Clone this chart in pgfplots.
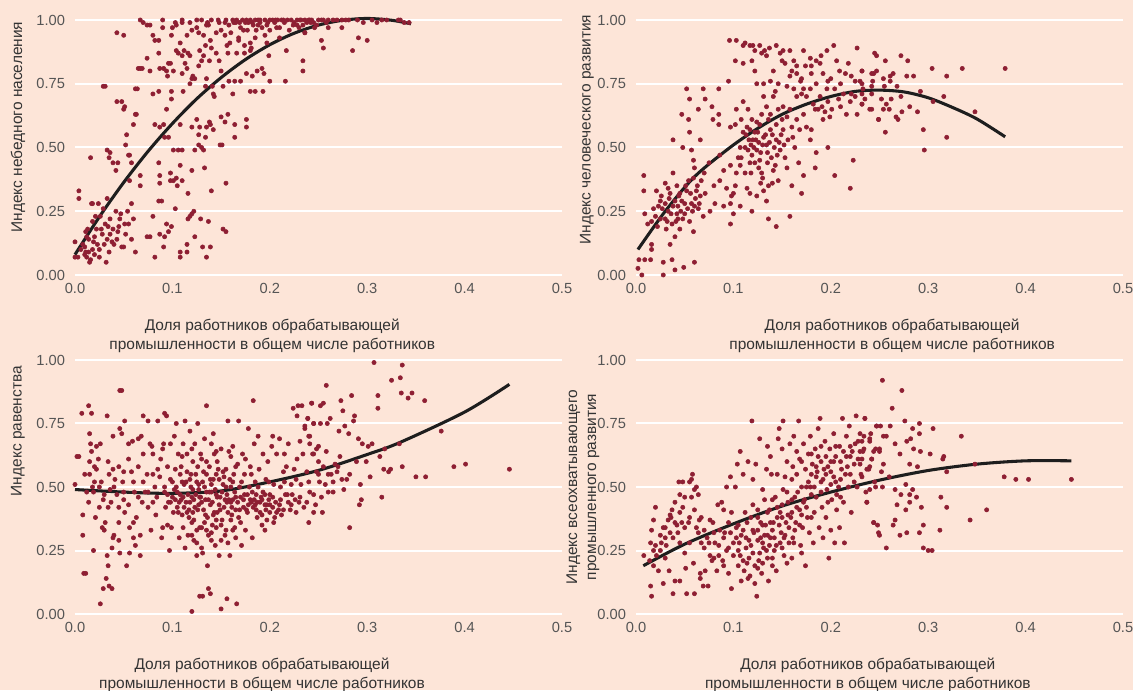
\documentclass[border=0pt]{standalone}
\usepackage{fontspec}
\setmainfont{Liberation Sans}
\usepackage{pgfplots}
\pgfplotsset{compat=1.18}
\definecolor{bg}{HTML}{FDE5D8}
\definecolor{pt}{HTML}{8E1F33}
\definecolor{fit}{HTML}{1E1E1E}
\definecolor{tickc}{HTML}{555555}
\definecolor{labc}{HTML}{333333}
\pgfplotsset{
 panel/.style={
  anchor=south west, scale only axis, width=365.25pt,
  xmin=0, xmax=0.5, ymin=0, ymax=1, clip=false,
  axis line style={draw=none}, major tick length=0pt,
  xtick={0,0.1,0.2,0.3,0.4,0.5}, xticklabels={0.0,0.1,0.2,0.3,0.4,0.5},
  ytick={0,0.25,0.5,0.75,1}, yticklabels={0.00,0.25,0.50,0.75,1.00},
  ymajorgrids, xmajorgrids=false,
  major grid style={white, line width=1.5pt},
  ticklabel style={font=\fontsize{11}{12}\selectfont, text=tickc},
  xticklabel style={yshift=-2.5pt},
  yticklabel style={xshift=-4pt},
  label style={font=\fontsize{11.6}{14.2}\selectfont, text=labc, align=center},
 },
 pts/.style={only marks, mark=*, mark size=1.6pt, color=pt, mark options={draw=none, fill=pt}},
 fitline/.style={no marks, smooth, color=fit, line width=2.3pt},
}
\begin{document}
\begin{tikzpicture}
\path[use as bounding box, fill=bg] (0,0) rectangle (849.75pt,517.5pt);
% ---------------- Panel 1
\begin{axis}[panel, at={(56.25pt,311.25pt)}, height=191.25pt,
  ylabel={Индекс небедного населения},
  ylabel style={at={(axis description cs:-0.117,0.58)}, anchor=center},
  xlabel={Доля работников обрабатывающей\\промышленности в общем числе работников},
  xlabel style={at={(axis description cs:0.405,-0.237)}, anchor=center}]
\addplot[pts] coordinates {
(0,0.07)(0,0.13)(0.003,0.07)(0.004,0.33)(0.004,0.30)(0.01,0.11)(0.011,0.09)(0.012,0.07)(0.013,0.18)(0.014,0.14)(0.015,0.05)(0.017,0.28)(0.019,0.13)(0.021,0.23)(0.022,0.18)(0.024,0.28)(0.025,0.07)(0.026,0.23)(0.027,0.18)(0.029,0.26)(0.031,0.20)(0.032,0.05)(0.033,0.30)(0.033,0.14)(0.036,0.22)(0.038,0.13)(0.039,0.18)(0.042,0.25)(0.044,0.17)(0.046,0.22)(0.048,0.11)(0.05,0.11)(0.051,0.20)(0.055,0.20)(0.058,0.14)(0.058,0.28)(0.062,0.09)(0.074,0.15)(0.077,0.15)(0.08,0.23)(0.082,0.07)(0.086,0.29)(0.087,0.16)(0.091,0.11)(0.092,0.15)(0.094,0.20)(0.096,0.17)(0.099,0.19)(0.103,0.26)(0.108,0.09)(0.108,0.07)(0.115,0.09)(0.115,0.12)(0.116,0.32)(0.116,0.22)(0.118,0.23)(0.12,0.24)(0.122,0.25)(0.123,0.15)(0.129,0.22)(0.131,0.11)(0.135,0.07)(0.137,0.21)(0.139,0.11)(0.14,0.33)(0.152,0.18)(0.155,0.17)
(0.006,0.10)(0.008,0.12)(0.01,0.08)(0.012,0.15)(0.014,0.09)(0.016,0.06)(0.018,0.10)(0.02,0.15)(0.023,0.12)(0.025,0.10)(0.028,0.16)(0.03,0.12)(0.034,0.19)(0.036,0.16)(0.04,0.12)(0.043,0.14)(0.045,0.19)(0.047,0.24)(0.052,0.16)(0.054,0.25)(0.06,0.22)(0.035,0.09)(0.02,0.08)(0.011,0.17)(0.018,0.21)
(0.016,0.46)(0.018,0.28)(0.029,0.74)(0.031,0.74)(0.033,0.49)(0.035,0.46)(0.036,0.48)(0.039,0.44)(0.042,0.41)(0.043,0.68)(0.044,0.44)(0.048,0.68)(0.05,0.65)(0.051,0.66)(0.053,0.55)(0.052,0.51)(0.055,0.47)(0.056,0.47)(0.058,0.44)(0.056,0.37)(0.06,0.59)(0.062,0.63)(0.063,0.63)(0.062,0.73)(0.064,0.73)(0.065,0.81)(0.067,0.81)(0.069,0.81)(0.067,0.39)(0.067,0.35)(0.074,0.85)(0.077,0.80)(0.08,0.71)(0.082,0.59)(0.086,0.72)(0.086,0.44)(0.087,0.58)(0.087,0.39)(0.087,0.36)(0.089,0.29)(0.091,0.59)(0.092,0.54)(0.094,0.65)(0.096,0.54)(0.098,0.40)(0.098,0.37)(0.099,0.72)(0.099,0.69)(0.101,0.49)(0.101,0.37)(0.104,0.38)(0.105,0.35)(0.106,0.49)(0.108,0.59)(0.108,0.43)(0.11,0.49)(0.11,0.37)(0.111,0.72)(0.12,0.41)(0.12,0.58)(0.123,0.49)(0.125,0.61)(0.127,0.55)(0.127,0.51)(0.128,0.58)(0.13,0.50)(0.132,0.49)(0.133,0.42)(0.134,0.54)(0.135,0.58)(0.138,0.60)(0.139,0.59)(0.142,0.57)(0.149,0.51)(0.151,0.51)(0.15,0.62)(0.154,0.60)(0.155,0.36)(0.157,0.63)(0.164,0.59)(0.164,0.54)(0.176,0.61)(0.176,0.58)
(0.043,0.95)(0.05,0.94)(0.067,1.0)(0.07,0.99)(0.074,0.98)(0.077,0.98)(0.08,0.94)(0.082,0.92)(0.086,0.92)(0.086,0.87)(0.09,0.97)(0.087,0.81)(0.091,0.81)(0.094,0.80)(0.096,0.83)(0.098,0.83)(0.095,0.78)(0.099,0.94)(0.101,0.80)(0.103,0.99)(0.104,0.98)(0.104,0.88)(0.106,0.87)(0.108,0.91)(0.11,0.99)(0.11,0.86)(0.11,0.79)(0.112,0.88)(0.113,0.83)(0.115,0.81)(0.115,0.94)(0.116,0.87)(0.118,0.99)(0.118,0.86)(0.118,0.75)(0.12,0.77)(0.121,0.78)(0.123,0.77)(0.125,0.97)(0.127,0.95)(0.127,0.82)(0.128,0.88)(0.13,1.0)(0.13,0.84)(0.132,0.94)(0.132,0.86)(0.134,0.90)(0.134,0.74)(0.135,0.77)(0.135,0.98)(0.137,0.98)(0.138,0.84)(0.139,0.92)(0.14,0.89)(0.141,0.74)(0.142,0.71)(0.143,0.70)(0.145,0.87)(0.145,0.95)(0.147,1.0)(0.148,0.84)(0.15,0.80)(0.152,0.74)(0.154,0.99)(0.154,0.94)(0.156,0.90)(0.157,0.87)(0.158,0.76)(0.159,0.91)(0.162,1.0)(0.162,0.71)(0.164,0.76)(0.166,0.87)(0.168,0.92)(0.169,0.99)(0.17,0.76)(0.173,0.96)(0.174,0.87)(0.176,0.79)(0.178,0.99)(0.18,0.91)(0.18,0.72)(0.181,0.89)(0.182,0.78)(0.185,0.72)(0.187,0.80)(0.188,0.98)(0.19,1.0)(0.192,0.81)(0.193,0.72)(0.194,0.79)(0.197,0.91)(0.199,0.86)(0.2,1.0)(0.2,0.76)(0.207,0.97)(0.216,0.76)(0.217,0.88)(0.228,0.98)(0.234,0.84)(0.236,0.95)(0.241,1.0)(0.248,0.98)
(0.136,0.99)(0.14,1.0)(0.148,0.99)(0.155,1.0)(0.158,0.98)(0.163,0.99)(0.166,1.0)(0.17,0.97)(0.172,1.0)(0.175,0.99)(0.177,0.96)(0.18,1.0)(0.183,0.98)(0.185,1.0)(0.186,0.96)(0.19,0.99)(0.192,0.97)(0.195,1.0)(0.197,0.98)(0.2,0.96)(0.203,1.0)(0.205,0.99)(0.208,1.0)(0.21,0.97)(0.212,1.0)(0.215,0.99)(0.218,1.0)(0.22,0.96)(0.222,1.0)(0.225,0.99)(0.23,0.97)(0.232,1.0)(0.238,0.99)(0.243,1.0)(0.246,0.97)(0.15,0.96)(0.16,0.95)(0.168,0.93)(0.185,0.93)(0.195,0.94)(0.21,0.93)(0.174,0.90)(0.18,0.88)(0.125,1.0)(0.11,1.0)(0.12,0.96)(0.1,0.97)(0.09,1.0)
(0.231,1.0)(0.234,0.98)(0.236,0.95)(0.24,1.0)(0.242,0.99)(0.25,1.0)(0.253,1.0)(0.255,1.0)(0.26,1.0)(0.26,0.97)(0.269,1.0)(0.274,1.0)(0.274,0.97)(0.253,0.92)(0.255,0.89)(0.281,1.0)(0.285,0.88)(0.291,0.93)(0.3,0.92)(0.31,0.99)(0.315,1.0)(0.332,1.0)(0.334,1.0)(0.343,0.99)(0.234,0.80)
(0.165,0.99)(0.176,1.0)(0.182,0.99)(0.188,1.0)(0.198,0.99)(0.206,1.0)(0.214,1.0)(0.224,0.98)(0.228,1.0)(0.236,1.0)(0.245,0.99)(0.258,0.99)(0.265,1.0)(0.278,1.0)(0.29,1.0)(0.296,0.99)(0.305,1.0)(0.32,1.0)(0.338,0.99)
};
\addplot[fitline] coordinates {(0,0.08)(0.025,0.228)(0.05,0.363)(0.075,0.485)(0.1,0.594)(0.125,0.691)(0.15,0.774)(0.175,0.845)(0.2,0.903)(0.225,0.948)(0.25,0.98)(0.275,0.999)(0.3,1.006)(0.325,0.999)(0.345,0.985)};
\end{axis}
% ---------------- Panel 2
\begin{axis}[panel, at={(477pt,311.25pt)}, height=191.25pt,
  ylabel={Индекс человеческого развития},
  ylabel style={at={(axis description cs:-0.1006,0.57)}, anchor=center},
  xlabel={Доля работников обрабатывающей\\промышленности в общем числе работников},
  xlabel style={at={(axis description cs:0.526,-0.237)}, anchor=center}]
\addplot[pts] coordinates {
(0.002,0.026)(0.006,0.0)(0.003,0.06)(0.009,0.06)(0.015,0.06)(0.016,0.10)(0.016,0.12)(0.008,0.39)(0.008,0.33)(0.009,0.24)(0.016,0.21)(0.02,0.23)(0.021,0.33)(0.023,0.27)(0.026,0.31)(0.028,0.05)(0.028,0.0)(0.03,0.36)(0.03,0.22)(0.031,0.18)(0.033,0.25)(0.035,0.32)(0.035,0.12)(0.037,0.06)(0.037,0.20)(0.038,0.40)(0.04,0.29)(0.04,0.15)(0.04,0.02)(0.042,0.35)(0.042,0.24)(0.043,0.27)(0.045,0.18)(0.045,0.32)(0.047,0.29)(0.049,0.03)(0.05,0.24)(0.052,0.73)(0.055,0.69)(0.054,0.37)(0.055,0.21)(0.057,0.28)(0.059,0.38)(0.059,0.17)(0.06,0.42)(0.06,0.05)(0.062,0.33)(0.064,0.26)(0.064,0.65)(0.066,0.53)(0.066,0.31)(0.067,0.37)(0.069,0.23)(0.069,0.73)(0.071,0.69)(0.071,0.32)(0.076,0.25)(0.078,0.66)(0.079,0.61)(0.081,0.28)(0.085,0.73)(0.085,0.63)(0.085,0.59)(0.086,0.37)(0.086,0.47)(0.09,0.27)(0.09,0.41)(0.093,0.34)(0.095,0.76)(0.097,0.58)(0.097,0.43)(0.097,0.20)(0.098,0.31)(0.1,0.32)(0.1,0.24)(0.102,0.35)(0.047,0.63)(0.048,0.50)(0.038,0.53)(0.054,0.61)(0.055,0.56)(0.057,0.49)(0.059,0.45)
(0.012,0.20)(0.018,0.26)(0.022,0.19)(0.025,0.22)(0.027,0.26)(0.03,0.28)(0.032,0.21)(0.034,0.30)(0.036,0.24)(0.038,0.27)(0.041,0.21)(0.044,0.31)(0.046,0.25)(0.048,0.22)(0.05,0.28)(0.052,0.33)(0.053,0.26)(0.056,0.32)(0.058,0.25)(0.061,0.30)(0.063,0.35)(0.065,0.28)
(0.025,0.29)(0.033,0.34)(0.043,0.22)(0.051,0.35)(0.06,0.27)(0.07,0.40)(0.075,0.44)(0.08,0.35)(0.2,0.77)(0.21,0.75)(0.215,0.79)(0.225,0.76)(0.18,0.82)(0.19,0.86)(0.16,0.80)(0.17,0.77)
(0.096,0.92)(0.103,0.92)(0.11,0.90)(0.112,0.91)(0.117,0.90)(0.12,0.90)(0.122,0.88)(0.127,0.90)(0.129,0.87)(0.132,0.88)(0.134,0.86)(0.137,0.89)(0.144,0.90)(0.148,0.87)(0.15,0.84)(0.151,0.88)(0.153,0.83)(0.158,0.88)(0.162,0.84)(0.165,0.82)(0.172,0.88)(0.174,0.82)(0.179,0.85)(0.18,0.79)(0.185,0.84)(0.189,0.83)(0.192,0.79)(0.196,0.88)(0.197,0.76)(0.203,0.90)(0.206,0.84)(0.209,0.80)(0.218,0.83)(0.221,0.78)(0.227,0.89)(0.23,0.76)(0.232,0.80)(0.244,0.79)(0.247,0.86)(0.102,0.84)(0.11,0.83)(0.119,0.84)(0.122,0.80)(0.124,0.75)(0.131,0.75)(0.138,0.76)(0.141,0.80)(0.143,0.72)(0.146,0.75)(0.155,0.74)(0.158,0.78)(0.162,0.73)(0.165,0.79)(0.169,0.76)(0.17,0.71)(0.172,0.73)(0.175,0.70)(0.179,0.73)(0.182,0.67)(0.184,0.65)(0.185,0.75)(0.187,0.65)(0.189,0.70)(0.191,0.66)(0.192,0.61)(0.194,0.64)(0.196,0.73)(0.197,0.68)(0.199,0.62)(0.201,0.65)(0.204,0.73)(0.208,0.69)(0.21,0.66)(0.213,0.71)(0.216,0.63)(0.22,0.68)(0.221,0.71)(0.225,0.70)(0.227,0.63)(0.232,0.67)(0.233,0.73)(0.24,0.65)(0.242,0.74)(0.249,0.61)(0.223,0.45)(0.22,0.34)(0.204,0.39)(0.197,0.50)(0.185,0.48)(0.184,0.42)(0.172,0.39)(0.17,0.32)(0.16,0.35)(0.158,0.23)(0.144,0.19)(0.136,0.22)(0.134,0.29)(0.131,0.33)(0.129,0.40)(0.124,0.31)(0.119,0.25)(0.117,0.32)(0.114,0.34)(0.112,0.40)(0.107,0.27)(0.105,0.46)(0.107,0.50)(0.11,0.56)(0.114,0.58)(0.117,0.57)(0.12,0.53)(0.124,0.49)(0.127,0.45)(0.131,0.54)(0.134,0.51)(0.138,0.57)(0.139,0.46)(0.141,0.41)(0.144,0.53)(0.146,0.37)(0.148,0.49)(0.151,0.57)(0.153,0.46)(0.155,0.42)(0.156,0.53)(0.16,0.58)(0.161,0.54)(0.163,0.50)(0.165,0.61)(0.167,0.44)(0.168,0.57)(0.172,0.63)(0.175,0.58)(0.179,0.53)(0.18,0.57)(0.102,0.59)(0.103,0.65)(0.108,0.61)(0.11,0.68)(0.115,0.65)(0.119,0.61)(0.112,0.50)(0.115,0.49)(0.117,0.44)(0.122,0.56)(0.127,0.59)(0.131,0.70)(0.134,0.66)(0.136,0.61)(0.138,0.63)(0.141,0.70)(0.144,0.59)(0.146,0.65)(0.15,0.61)(0.151,0.66)(0.155,0.62)(0.158,0.65)(0.165,0.70)(0.107,0.43)(0.108,0.46)(0.103,0.40)(0.097,0.28)
(0.113,0.55)(0.116,0.53)(0.118,0.51)(0.121,0.50)(0.123,0.53)(0.125,0.56)(0.126,0.52)(0.128,0.48)(0.13,0.51)(0.133,0.55)(0.135,0.48)(0.137,0.52)(0.14,0.55)(0.142,0.50)(0.145,0.47)(0.147,0.52)(0.149,0.55)(0.152,0.51)(0.119,0.47)(0.122,0.44)(0.126,0.42)(0.13,0.38)(0.135,0.44)(0.14,0.36)(0.143,0.43)(0.136,0.35)(0.128,0.36)(0.118,0.40)(0.124,0.60)(0.129,0.63)
(0.232,0.80)(0.232,0.75)(0.232,0.71)(0.232,0.67)(0.235,0.69)(0.242,0.79)(0.242,0.71)(0.242,0.65)(0.243,0.76)(0.245,0.87)(0.247,0.80)(0.249,0.61)(0.252,0.69)(0.254,0.77)(0.254,0.65)(0.255,0.74)(0.256,0.84)(0.256,0.56)(0.257,0.67)(0.26,0.65)(0.261,0.78)(0.261,0.76)(0.262,0.69)(0.264,0.79)(0.267,0.62)(0.268,0.74)(0.269,0.61)(0.272,0.86)(0.272,0.70)(0.273,0.64)(0.278,0.78)(0.279,0.84)(0.281,0.66)(0.285,0.78)(0.289,0.64)(0.292,0.72)(0.295,0.57)(0.296,0.49)(0.304,0.81)(0.305,0.68)(0.316,0.70)(0.319,0.78)(0.319,0.54)(0.335,0.81)(0.348,0.64)(0.379,0.81)
};
\addplot[fitline] coordinates {(0.002,0.10)(0.03,0.25)(0.06,0.385)(0.0965,0.50)(0.125,0.575)(0.15,0.63)(0.175,0.67)(0.2,0.70)(0.225,0.72)(0.25,0.725)(0.275,0.718)(0.3,0.695)(0.325,0.657)(0.35,0.612)(0.379,0.542)};
\end{axis}
% ---------------- Panel 3
\begin{axis}[panel, at={(56.25pt,57pt)}, height=190.5pt,
  ylabel={Индекс равенства},
  ylabel style={at={(axis description cs:-0.117,0.72)}, anchor=center},
  xlabel={Доля работников обрабатывающей\\промышленности в общем числе работников},
  xlabel style={at={(axis description cs:0.384,-0.24)}, anchor=center}]
\addplot[pts] coordinates {
(0,0.51)(0.002,0.62)(0.004,0.62)(0.007,0.79)(0.008,0.39)(0.008,0.31)(0.009,0.16)(0.011,0.16)(0.014,0.82)(0.014,0.44)(0.015,0.55)(0.015,0.71)(0.015,0.60)(0.016,0.67)(0.017,0.79)(0.017,0.64)(0.018,0.50)(0.019,0.25)(0.019,0.48)(0.021,0.38)(0.022,0.66)(0.022,0.57)(0.024,0.61)(0.025,0.42)(0.026,0.04)(0.026,0.67)(0.027,0.52)(0.028,0.34)(0.029,0.10)(0.029,0.45)(0.031,0.36)(0.032,0.14)(0.033,0.23)(0.033,0.78)(0.034,0.60)(0.034,0.19)(0.035,0.11)(0.036,0.49)(0.037,0.44)(0.038,0.26)(0.038,0.10)(0.039,0.70)(0.039,0.30)(0.039,0.57)(0.041,0.53)(0.043,0.47)(0.045,0.42)(0.045,0.29)(0.046,0.73)(0.046,0.88)(0.048,0.88)(0.046,0.24)(0.048,0.71)(0.049,0.52)(0.05,0.45)(0.051,0.76)(0.051,0.40)(0.053,0.19)(0.055,0.67)(0.056,0.34)(0.056,0.24)(0.058,0.56)(0.059,0.68)(0.06,0.30)(0.061,0.48)(0.062,0.27)(0.063,0.38)(0.065,0.69)(0.067,0.31)(0.067,0.23)(0.068,0.70)(0.069,0.44)(0.07,0.78)(0.072,0.48)(0.074,0.55)(0.075,0.76)(0.077,0.67)(0.079,0.66)(0.08,0.63)(0.08,0.55)(0.082,0.50)(0.083,0.39)(0.084,0.46)(0.085,0.76)(0.087,0.54)(0.088,0.61)(0.089,0.30)(0.09,0.34)(0.091,0.67)(0.092,0.79)(0.092,0.48)(0.093,0.42)(0.094,0.78)(0.095,0.58)(0.096,0.44)(0.097,0.25)(0.098,0.53)(0.098,0.67)(0.099,0.34)(0.1,0.46)(0.101,0.40)(0.102,0.70)(0.103,0.57)(0.104,0.50)(0.104,0.75)(0.105,0.42)(0.106,0.63)(0.107,0.30)(0.108,0.55)(0.108,0.47)(0.11,0.39)(0.111,0.67)(0.111,0.34)(0.112,0.51)(0.113,0.76)(0.113,0.26)(0.114,0.44)(0.115,0.63)(0.115,0.56)(0.116,0.31)(0.117,0.41)(0.118,0.72)(0.119,0.50)(0.12,0.01)(0.12,0.36)(0.121,0.60)(0.122,0.29)(0.122,0.45)(0.123,0.67)(0.124,0.55)(0.125,0.23)(0.126,0.75)(0.126,0.41)(0.127,0.51)(0.128,0.34)(0.128,0.07)(0.129,0.63)(0.13,0.44)(0.131,0.07)(0.131,0.24)(0.132,0.56)(0.133,0.69)(0.134,0.39)(0.135,0.82)(0.135,0.48)(0.136,0.19)(0.137,0.10)(0.137,0.31)(0.138,0.58)(0.139,0.08)(0.139,0.43)(0.14,0.67)(0.14,0.51)(0.141,0.35)(0.142,0.71)(0.143,0.63)(0.144,0.27)(0.145,0.47)(0.145,0.55)(0.146,0.40)(0.147,0.57)(0.148,0.23)(0.149,0.46)(0.15,0.02)(0.15,0.65)(0.151,0.37)(0.152,0.51)(0.154,0.31)(0.155,0.57)(0.156,0.06)(0.156,0.44)(0.157,0.76)(0.158,0.64)(0.159,0.23)(0.16,0.50)(0.161,0.39)(0.162,0.66)(0.163,0.55)(0.164,0.34)(0.165,0.46)(0.166,0.04)(0.167,0.59)(0.168,0.76)(0.169,0.41)(0.169,0.50)(0.171,0.27)(0.172,0.63)(0.173,0.45)(0.174,0.55)(0.176,0.41)(0.178,0.73)(0.179,0.50)(0.18,0.58)(0.181,0.44)(0.182,0.30)(0.183,0.84)(0.184,0.67)(0.185,0.52)(0.186,0.41)(0.186,0.47)(0.188,0.70)(0.189,0.57)(0.19,0.44)(0.192,0.39)(0.193,0.63)(0.193,0.48)(0.195,0.33)(0.196,0.53)(0.197,0.43)(0.198,0.60)(0.2,0.40)(0.2,0.47)(0.202,0.66)(0.203,0.70)(0.204,0.36)(0.204,0.51)(0.206,0.44)(0.207,0.63)(0.209,0.41)(0.21,0.69)(0.211,0.50)(0.212,0.39)(0.214,0.56)(0.215,0.63)(0.216,0.47)(0.217,0.58)(0.219,0.67)(0.221,0.41)(0.222,0.51)(0.224,0.81)(0.225,0.57)(0.227,0.40)(0.228,0.78)(0.228,0.61)(0.229,0.82)(0.23,0.44)(0.231,0.68)(0.232,0.51)(0.234,0.63)(0.236,0.73)(0.238,0.56)(0.239,0.77)(0.24,0.36)(0.241,0.48)(0.241,0.70)(0.243,0.83)(0.244,0.63)(0.245,0.40)(0.245,0.75)(0.247,0.43)(0.248,0.56)(0.25,0.66)(0.251,0.52)
(0.105,0.48)(0.109,0.45)(0.112,0.42)(0.116,0.47)(0.118,0.44)(0.121,0.40)(0.124,0.47)(0.127,0.43)(0.129,0.46)(0.132,0.41)(0.134,0.45)(0.136,0.38)(0.138,0.48)(0.141,0.44)(0.143,0.40)(0.146,0.46)(0.148,0.43)(0.151,0.48)(0.153,0.42)(0.156,0.47)(0.158,0.45)(0.161,0.42)(0.164,0.48)(0.167,0.44)(0.17,0.46)(0.173,0.42)(0.177,0.47)(0.18,0.45)(0.183,0.42)(0.187,0.44)(0.191,0.46)(0.195,0.43)(0.199,0.45)(0.203,0.42)(0.122,0.37)(0.13,0.34)(0.14,0.32)(0.15,0.35)(0.16,0.37)(0.118,0.53)(0.125,0.52)(0.133,0.50)(0.142,0.53)(0.153,0.54)(0.162,0.52)(0.11,0.52)(0.03,0.47)(0.04,0.50)(0.05,0.48)(0.06,0.52)(0.065,0.46)(0.07,0.52)(0.075,0.42)(0.02,0.52)(0.045,0.58)(0.055,0.61)
(0.092,0.50)(0.095,0.47)(0.098,0.44)(0.1,0.52)(0.103,0.45)(0.106,0.40)(0.109,0.58)(0.111,0.46)(0.114,0.52)(0.117,0.38)(0.119,0.55)(0.121,0.49)(0.123,0.42)(0.126,0.58)(0.128,0.46)(0.131,0.52)(0.133,0.36)(0.135,0.60)(0.137,0.45)(0.139,0.53)(0.142,0.39)(0.144,0.49)(0.146,0.60)(0.149,0.41)(0.152,0.56)(0.154,0.45)(0.157,0.40)(0.159,0.53)(0.162,0.45)(0.165,0.58)(0.168,0.38)(0.171,0.52)(0.174,0.47)(0.177,0.40)(0.181,0.55)(0.184,0.45)(0.188,0.50)(0.192,0.45)(0.196,0.41)(0.199,0.52)(0.203,0.46)(0.207,0.40)(0.211,0.45)(0.215,0.52)(0.219,0.44)(0.223,0.47)(0.227,0.53)(0.231,0.46)(0.235,0.42)(0.12,0.31)(0.125,0.28)(0.13,0.26)(0.135,0.33)(0.14,0.29)(0.145,0.34)(0.15,0.29)(0.155,0.33)(0.165,0.30)(0.11,0.62)(0.12,0.65)(0.13,0.61)(0.145,0.64)(0.16,0.62)(0.175,0.61)(0.01,0.55)(0.012,0.48)(0.02,0.58)(0.025,0.50)(0.035,0.55)(0.045,0.36)(0.055,0.43)(0.065,0.58)(0.07,0.63)(0.075,0.48)(0.08,0.44)(0.085,0.57)(0.09,0.65)(0.095,0.35)(0.03,0.33)(0.04,0.31)(0.06,0.36)(0.078,0.33)(0.05,0.56)(0.034,0.42)
(0.185,0.43)(0.19,0.40)(0.195,0.47)(0.2,0.43)(0.205,0.38)(0.21,0.43)(0.214,0.41)(0.218,0.47)(0.222,0.43)(0.226,0.45)(0.182,0.48)(0.178,0.43)(0.187,0.38)(0.192,0.35)(0.197,0.37)(0.17,0.36)(0.175,0.33)(0.165,0.41)(0.16,0.44)(0.155,0.50)(0.148,0.53)(0.14,0.48)(0.135,0.55)(0.127,0.49)(0.12,0.46)(0.115,0.40)(0.107,0.44)(0.102,0.49)(0.125,0.33)(0.145,0.37)(0.157,0.28)(0.162,0.33)(0.24,0.52)(0.245,0.47)(0.238,0.44)(0.25,0.55)(0.255,0.58)(0.26,0.55)(0.265,0.52)(0.27,0.58)
(0.233,0.82)(0.236,0.74)(0.239,0.77)(0.24,0.70)(0.241,0.67)(0.243,0.83)(0.245,0.75)(0.245,0.63)(0.248,0.65)(0.25,0.60)(0.252,0.82)(0.252,0.75)(0.253,0.46)(0.254,0.40)(0.255,0.83)(0.257,0.51)(0.258,0.64)(0.258,0.90)(0.259,0.75)(0.26,0.48)(0.262,0.77)(0.263,0.55)(0.265,0.48)(0.267,0.59)(0.269,0.56)(0.271,0.72)(0.272,0.62)(0.273,0.84)(0.274,0.53)(0.275,0.80)(0.276,0.49)(0.277,0.74)(0.279,0.53)(0.281,0.71)(0.282,0.34)(0.282,0.55)(0.284,0.86)(0.286,0.76)(0.287,0.78)(0.289,0.60)(0.291,0.69)(0.292,0.43)(0.293,0.51)(0.294,0.45)(0.295,0.67)(0.299,0.60)(0.301,0.66)(0.303,0.54)(0.305,0.67)(0.307,0.99)(0.311,0.86)(0.311,0.81)(0.313,0.62)(0.315,0.46)(0.317,0.57)(0.318,0.65)(0.322,0.56)(0.324,0.57)(0.325,0.92)(0.333,0.67)(0.334,0.93)(0.335,0.87)(0.336,0.98)(0.336,0.58)(0.342,0.85)(0.346,0.87)(0.35,0.54)(0.359,0.84)(0.36,0.54)(0.376,0.72)(0.389,0.58)(0.401,0.59)(0.446,0.57)
};
\addplot[fitline] coordinates {(0,0.49)(0.05,0.48)(0.0975,0.475)(0.149,0.484)(0.2,0.52)(0.2515,0.567)(0.3,0.628)(0.334,0.676)(0.4,0.795)(0.446,0.904)};
\end{axis}
% ---------------- Panel 4
\begin{axis}[panel, at={(477pt,57pt)}, height=190.5pt,
  ylabel={Индекс всеохватывающего\\промышленного развития},
  ylabel style={at={(axis description cs:-0.109,0.5)}, anchor=center},
  xlabel={Доля работников обрабатывающей\\промышленности в общем числе работников},
  xlabel style={at={(axis description cs:0.476,-0.24)}, anchor=center}]
\addplot[pts] coordinates {
(0.008,0.23)(0.014,0.21)(0.015,0.11)(0.016,0.07)(0.015,0.28)(0.016,0.33)(0.018,0.37)(0.02,0.42)(0.018,0.25)(0.018,0.19)(0.021,0.23)(0.023,0.17)(0.025,0.25)(0.026,0.28)(0.028,0.34)(0.028,0.12)(0.03,0.30)(0.031,0.27)(0.033,0.37)(0.034,0.17)(0.035,0.32)(0.036,0.38)(0.037,0.41)(0.038,0.30)(0.038,0.08)(0.04,0.44)(0.04,0.13)(0.042,0.35)(0.043,0.32)(0.044,0.52)(0.045,0.13)(0.047,0.36)(0.048,0.42)(0.048,0.52)(0.05,0.24)(0.051,0.18)(0.052,0.08)(0.054,0.36)(0.055,0.28)(0.055,0.38)(0.057,0.53)(0.057,0.46)(0.058,0.55)(0.059,0.20)(0.06,0.08)(0.06,0.49)(0.062,0.50)(0.062,0.34)(0.064,0.47)(0.064,0.32)(0.066,0.16)(0.066,0.14)(0.067,0.28)(0.067,0.38)(0.069,0.11)(0.071,0.17)(0.073,0.30)(0.074,0.11)(0.076,0.23)(0.076,0.37)(0.078,0.21)(0.079,0.36)(0.081,0.28)(0.083,0.17)(0.084,0.43)(0.085,0.23)(0.086,0.33)(0.088,0.44)(0.089,0.21)(0.09,0.41)(0.091,0.32)(0.093,0.25)(0.093,0.50)(0.095,0.16)(0.097,0.32)(0.097,0.54)(0.098,0.10)(0.098,0.40)(0.1,0.23)(0.102,0.50)(0.103,0.30)(0.103,0.34)(0.104,0.59)(0.105,0.19)(0.106,0.28)(0.107,0.64)(0.107,0.23)(0.108,0.13)(0.11,0.33)(0.11,0.55)(0.111,0.17)(0.112,0.40)(0.113,0.26)(0.114,0.36)(0.114,0.20)(0.115,0.60)(0.116,0.29)(0.117,0.15)(0.118,0.38)(0.119,0.76)(0.12,0.53)(0.12,0.24)(0.121,0.32)(0.122,0.12)(0.123,0.59)(0.124,0.07)(0.125,0.41)(0.126,0.21)(0.127,0.69)(0.128,0.30)(0.128,0.36)(0.129,0.16)(0.13,0.49)(0.131,0.26)(0.132,0.45)(0.133,0.35)(0.134,0.57)(0.134,0.25)(0.135,0.66)(0.136,0.13)(0.137,0.41)(0.138,0.30)(0.138,0.62)(0.139,0.55)(0.14,0.22)(0.141,0.36)(0.143,0.46)(0.144,0.27)(0.144,0.17)(0.145,0.55)(0.146,0.69)(0.147,0.73)(0.148,0.40)(0.149,0.32)(0.15,0.65)(0.151,0.76)(0.151,0.49)(0.152,0.23)(0.153,0.54)(0.154,0.36)(0.155,0.20)(0.155,0.60)(0.156,0.44)(0.157,0.28)(0.158,0.67)(0.159,0.38)(0.16,0.53)(0.161,0.58)(0.161,0.30)(0.162,0.70)(0.163,0.46)(0.164,0.36)(0.165,0.64)(0.167,0.76)(0.168,0.41)(0.168,0.61)(0.169,0.27)(0.17,0.50)(0.171,0.34)(0.172,0.67)(0.174,0.19)(0.174,0.57)(0.175,0.42)(0.177,0.63)(0.178,0.32)(0.179,0.70)(0.179,0.50)(0.18,0.38)(0.181,0.59)(0.182,0.28)(0.184,0.65)(0.185,0.46)(0.185,0.54)(0.187,0.73)(0.188,0.34)(0.189,0.77)(0.19,0.60)(0.191,0.42)(0.192,0.30)(0.192,0.53)(0.194,0.68)(0.195,0.38)(0.196,0.49)(0.197,0.58)(0.198,0.22)(0.199,0.65)(0.2,0.33)(0.201,0.45)(0.203,0.71)(0.203,0.54)(0.204,0.28)(0.205,0.62)(0.206,0.41)(0.208,0.50)(0.209,0.66)(0.209,0.34)(0.211,0.57)(0.212,0.77)(0.213,0.44)(0.214,0.28)(0.216,0.62)(0.216,0.70)(0.218,0.50)(0.219,0.74)(0.22,0.55)(0.221,0.40)(0.222,0.64)(0.224,0.59)(0.226,0.78)(0.227,0.50)(0.228,0.68)(0.23,0.59)(0.232,0.54)(0.233,0.64)(0.235,0.77)(0.237,0.44)(0.239,0.57)(0.24,0.68)(0.242,0.61)(0.244,0.36)(0.245,0.52)(0.247,0.74)(0.249,0.32)(0.25,0.65)
(0.105,0.25)(0.108,0.31)(0.11,0.21)(0.113,0.30)(0.116,0.22)(0.118,0.27)(0.12,0.33)(0.122,0.19)(0.125,0.29)(0.127,0.24)(0.13,0.20)(0.132,0.31)(0.135,0.22)(0.137,0.27)(0.14,0.33)(0.142,0.25)(0.145,0.38)(0.148,0.28)(0.15,0.43)(0.153,0.31)(0.156,0.39)(0.16,0.45)(0.163,0.33)(0.166,0.48)(0.17,0.39)(0.173,0.45)(0.177,0.52)(0.18,0.47)(0.183,0.40)(0.186,0.56)(0.19,0.48)(0.195,0.55)(0.2,0.60)(0.205,0.52)(0.21,0.46)(0.035,0.39)(0.04,0.36)(0.045,0.40)(0.05,0.34)(0.03,0.22)(0.045,0.28)(0.07,0.26)(0.08,0.22)(0.085,0.27)(0.09,0.19)(0.095,0.26)
(0.12,0.43)(0.125,0.38)(0.13,0.35)(0.135,0.40)(0.14,0.45)(0.145,0.42)(0.155,0.48)(0.16,0.40)(0.165,0.55)(0.17,0.60)(0.175,0.50)(0.18,0.63)(0.185,0.58)(0.19,0.66)(0.195,0.62)(0.2,0.56)(0.205,0.66)(0.21,0.60)(0.215,0.55)(0.22,0.62)(0.225,0.67)(0.23,0.71)(0.14,0.19)(0.15,0.26)(0.16,0.22)(0.17,0.24)(0.115,0.14)(0.125,0.18)(0.09,0.30)(0.095,0.36)(0.1,0.28)(0.105,0.35)(0.06,0.41)(0.065,0.37)(0.07,0.33)(0.075,0.28)(0.08,0.32)(0.025,0.31)(0.03,0.34)(0.02,0.27)(0.045,0.47)(0.05,0.46)(0.055,0.52)
(0.125,0.33)(0.13,0.28)(0.135,0.31)(0.138,0.36)(0.142,0.30)(0.147,0.35)(0.15,0.38)(0.152,0.30)(0.157,0.34)(0.162,0.28)(0.165,0.42)(0.168,0.35)(0.172,0.44)(0.176,0.38)(0.18,0.55)(0.183,0.50)(0.187,0.62)(0.19,0.52)(0.193,0.57)(0.197,0.44)(0.2,0.51)(0.203,0.60)(0.206,0.47)(0.21,0.53)(0.213,0.64)(0.217,0.58)(0.22,0.66)(0.224,0.52)(0.228,0.61)(0.232,0.68)
(0.235,0.77)(0.234,0.70)(0.24,0.69)(0.241,0.71)(0.23,0.64)(0.232,0.61)(0.234,0.65)(0.242,0.61)(0.244,0.64)(0.246,0.65)(0.247,0.74)(0.251,0.74)(0.25,0.64)(0.253,0.92)(0.254,0.59)(0.254,0.70)(0.257,0.70)(0.261,0.74)(0.263,0.81)(0.266,0.67)(0.271,0.63)(0.273,0.88)(0.276,0.76)(0.278,0.68)(0.281,0.59)(0.282,0.69)(0.284,0.73)(0.285,0.65)(0.289,0.58)(0.291,0.75)(0.291,0.71)(0.292,0.64)(0.302,0.63)(0.305,0.73)(0.315,0.61)(0.316,0.62)(0.319,0.56)(0.334,0.70)(0.348,0.59)(0.378,0.54)(0.39,0.53)(0.403,0.53)(0.447,0.53)(0.231,0.55)(0.237,0.57)(0.24,0.58)(0.252,0.56)(0.26,0.54)(0.236,0.48)(0.237,0.44)(0.24,0.49)(0.246,0.50)(0.253,0.50)(0.266,0.49)(0.272,0.47)(0.277,0.51)(0.281,0.47)(0.284,0.49)(0.288,0.46)(0.268,0.43)(0.281,0.44)(0.277,0.41)(0.293,0.42)(0.313,0.46)(0.319,0.42)(0.36,0.41)(0.343,0.37)(0.244,0.36)(0.248,0.35)(0.266,0.37)(0.264,0.35)(0.295,0.35)(0.25,0.31)(0.271,0.31)(0.278,0.32)(0.291,0.32)(0.312,0.33)(0.257,0.26)(0.295,0.26)(0.3,0.25)(0.304,0.25)
};
\addplot[fitline] coordinates {(0.0075,0.19)(0.05,0.275)(0.1,0.355)(0.15,0.425)(0.2,0.48)(0.25,0.527)(0.3,0.565)(0.35,0.59)(0.4,0.603)(0.447,0.603)};
\end{axis}
\end{tikzpicture}
\end{document}
